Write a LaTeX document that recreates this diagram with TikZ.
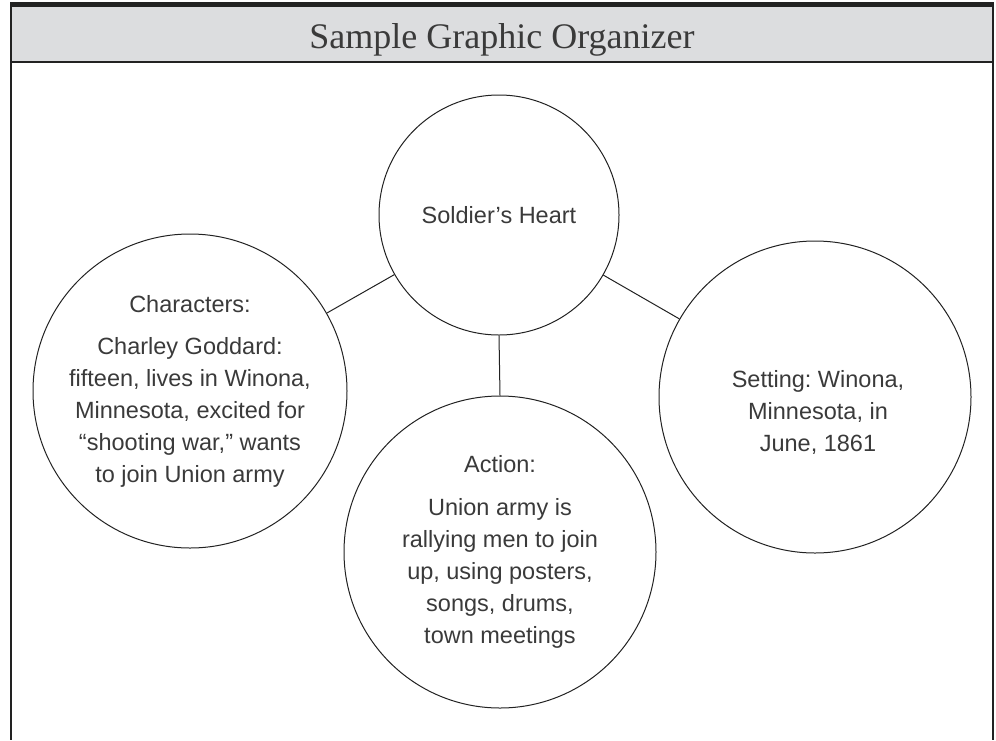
\documentclass[tikz,border=0pt]{standalone}
\usepackage{fontspec}
\setmainfont{Liberation Sans}
\newfontfamily\titlefont{Liberation Serif}
\definecolor{bandgray}{HTML}{DCDDDF}
\definecolor{txt}{HTML}{3A3A3A}
\definecolor{ink}{HTML}{222222}
\frenchspacing
\begin{document}
\begin{tikzpicture}[x=1pt,y=-1pt,
  bubble/.style={circle, draw=ink, line width=1pt, minimum size=#1, inner sep=0pt,
    align=center, text=txt, font=\fontsize{23.5}{32}\selectfont},
  btext/.style={align=center, text=txt, font=\fontsize{23.5}{32}\selectfont, inner sep=0pt},
  link/.style={draw=ink, line width=1pt},
  frameline/.style={draw=ink, line width=1.8pt}]
\useasboundingbox (0,0) rectangle (996,740);
% header band and frame
\fill[bandgray] (11,7) rectangle (993,62);
\draw[ink, line width=5pt] (10,4.5) -- (994,4.5);
\draw[frameline] (10,62) -- (994,62);
\draw[frameline] (11,4) -- (11,740);
\draw[frameline] (993,4) -- (993,740);
\node[font=\titlefont\fontsize{36}{40}\selectfont, text=txt, anchor=base, inner sep=0pt] (title) at (502,48) {Sample Graphic Organizer};
% circles
\node[bubble=240pt] (heart) at (499,215) {Soldier’s Heart};
\node[bubble=314pt] (chars) at (190,391) {Characters:\\[10pt]
Charley Goddard:\\
fifteen, lives in Winona,\\
Minnesota, excited for\\
“shooting war,” wants\\
to join Union army};
\node[bubble=312pt] (setting) at (815,397) {};
\node[btext] (settingtext) at (818,412) {Setting: Winona,\\ Minnesota, in\\ June, 1861};
\node[bubble=312pt] (action) at (500,552) {Action:\\[11pt]
Union army is\\
rallying men to join\\
up, using posters,\\
songs, drums,\\
town meetings};
% connectors
\draw[link] (heart) -- (chars);
\draw[link] (heart) -- (setting);
\draw[link] (heart.south) -- (action.north);
\end{tikzpicture}
\end{document}
